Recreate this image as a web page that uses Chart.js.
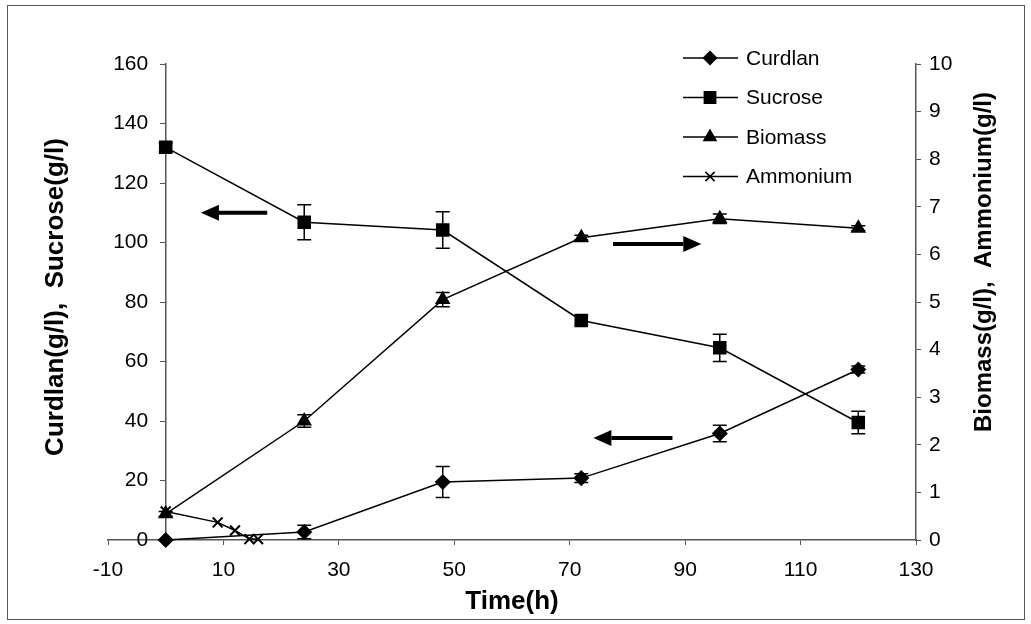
<!DOCTYPE html>
<html>
<head>
<meta charset="utf-8">
<script src="https://cdn.jsdelivr.net/npm/chart.js@4.4.1/dist/chart.umd.min.js"></script>
<style>
  html, body { margin: 0; padding: 0; background: #fff; }
  #wrap { position: relative; width: 1031px; height: 624px; }
  #frame { position: absolute; left: 7px; top: 5px; width: 1016px; height: 613px; border: 1px solid #555; }
  #chart { position: absolute; left: 0; top: 0; }
</style>
</head>
<body>
<div id="wrap">
  <div id="frame"></div>
  <canvas id="chart" width="1031" height="624"></canvas>
</div>
<script>
// sampling times (h)
const time = [0, 24, 48, 72, 96, 120]

// left axis series (g/l) with their error bars
const curdlan = [0, 2.7, 19.5, 20.8, 35.8, 57.3]
const curdlanErr = [0, 2.3, 5.2, 1.5, 2.8, 1.2]
const sucrose = [132, 106.8, 104.2, 73.8, 64.6, 39.5]
const sucroseErr = [1.5, 5.9, 6.1, 1.6, 4.6, 3.8]

// right axis series (g/l)
const biomass = [0.55, 2.5, 5.05, 6.35, 6.75, 6.55]
const biomassErr = [0.05, 0.13, 0.15, 0.05, 0.1, 0.05]
const ammoniumTime = [0, 9, 12, 14.5, 16]
const ammonium = [0.6, 0.37, 0.2, 0.02, 0.02]

// axis ticks
const xTicks = [-10, 10, 30, 50, 70, 90, 110, 130]

// arrows pointing to the axis each curve belongs to (tail x, head x, level, axis)
const arrowTail = [17.6, 77.5, 87.8]
const arrowHead = [6.1, 92.8, 74.1]
const arrowLevel = [110, 6.22, 34.3]
const arrowAxis = ['y', 'y1', 'y']

const FONT = 'Liberation Sans, Arial, sans-serif'
Chart.defaults.font.family = FONT
Chart.defaults.color = '#000'

function points(xs, ys) {
    return xs.map((x, i) => ({ x: x, y: ys[i] }))
}

const common = {
    borderColor: '#000',
    backgroundColor: '#000',
    borderWidth: 1.5,
    pointBorderWidth: 1.5,
    tension: 0,
    fill: false,
    clip: false
}

const datasets = [
    { ...common, label: 'Curdlan', data: points(time, curdlan), err: curdlanErr, yAxisID: 'y', pointStyle: 'rectRot', pointRadius: 7 },
    { ...common, label: 'Sucrose', data: points(time, sucrose), err: sucroseErr, yAxisID: 'y', pointStyle: 'rect', pointRadius: 8.5 },
    { ...common, label: 'Biomass', data: points(time, biomass), err: biomassErr, yAxisID: 'y1', pointStyle: 'triangle', pointRadius: 7.5 },
    { ...common, label: 'Ammonium', data: points(ammoniumTime, ammonium), yAxisID: 'y1', pointStyle: 'crossRot', pointRadius: 7, pointBorderWidth: 2 }
]

// vertical error bars with caps
const errorBars = {
    id: 'errorBars',
    afterDatasetsDraw(chart) {
        const ctx = chart.ctx
        ctx.save()
        ctx.strokeStyle = '#000'
        ctx.lineWidth = 1.5
        chart.data.datasets.forEach(ds => {
            if (!ds.err) return
            const xs = chart.scales.x
            const ys = chart.scales[ds.yAxisID]
            ds.data.forEach((p, j) => {
                const e = ds.err[j]
                if (!e) return
                const px = xs.getPixelForValue(p.x)
                const top = ys.getPixelForValue(p.y + e)
                const bot = ys.getPixelForValue(p.y - e)
                ctx.beginPath()
                ctx.moveTo(px, top); ctx.lineTo(px, bot)
                ctx.moveTo(px - 7, top); ctx.lineTo(px + 7, top)
                ctx.moveTo(px - 7, bot); ctx.lineTo(px + 7, bot)
                ctx.stroke()
            })
        })
        ctx.restore()
    }
}

// the three block arrows
const arrows = {
    id: 'arrows',
    afterDatasetsDraw(chart) {
        const ctx = chart.ctx
        const xs = chart.scales.x
        ctx.save()
        ctx.fillStyle = '#000'
        ctx.strokeStyle = '#000'
        ctx.lineWidth = 4
        arrowTail.forEach((t, i) => {
            const x1 = xs.getPixelForValue(t)
            const x2 = xs.getPixelForValue(arrowHead[i])
            const y = chart.scales[arrowAxis[i]].getPixelForValue(arrowLevel[i])
            const dir = x2 > x1 ? 1 : -1
            const headLen = 18
            ctx.beginPath()
            ctx.moveTo(x1, y)
            ctx.lineTo(x2 - dir * headLen, y)
            ctx.stroke()
            ctx.beginPath()
            ctx.moveTo(x2, y)
            ctx.lineTo(x2 - dir * headLen, y - 8)
            ctx.lineTo(x2 - dir * headLen, y + 8)
            ctx.closePath()
            ctx.fill()
        })
        ctx.restore()
    }
}

// legend (line + marker) in the upper right corner, and the two vertical axis titles
const extras = {
    id: 'extras',
    afterDraw(chart) {
        const ctx = chart.ctx
        ctx.save()
        ctx.fillStyle = '#000'
        ctx.strokeStyle = '#000'
        chart.data.datasets.forEach((ds, i) => {
            const y = 58 + i * 39.5
            ctx.lineWidth = 1.5
            ctx.beginPath()
            ctx.moveTo(683, y)
            ctx.lineTo(738, y)
            ctx.stroke()
            Chart.helpers.drawPoint(ctx, { pointStyle: ds.pointStyle, radius: ds.pointRadius - 0.5, borderWidth: ds.pointBorderWidth, rotation: 0 }, 710, y)
            ctx.font = '21px ' + FONT
            ctx.textAlign = 'left'
            ctx.textBaseline = 'middle'
            ctx.fillText(ds.label, 746, y + 1)
        })

        ctx.font = 'bold 26px ' + FONT
        ctx.textAlign = 'center'
        ctx.textBaseline = 'middle'
        ctx.translate(56, 297)
        ctx.rotate(-Math.PI / 2)
        ctx.fillText('Curdlan(g/l),  Sucrose(g/l)', 0, 0)
        ctx.restore()

        ctx.save()
        ctx.fillStyle = '#000'
        ctx.font = 'bold 24px ' + FONT
        ctx.textAlign = 'center'
        ctx.textBaseline = 'middle'
        ctx.translate(984, 262)
        ctx.rotate(-Math.PI / 2)
        ctx.fillText('Biomass(g/l),  Ammonium(g/l)', 0, 0)
        ctx.restore()
    }
}

const axisColor = '#555'

new Chart(document.getElementById('chart'), {
    type: 'line',
    data: { datasets: datasets },
    options: {
        responsive: false,
        animation: false,
        layout: { padding: { left: 108, top: 64, right: 0, bottom: 0 } },
        plugins: {
            legend: { display: false },
            tooltip: { enabled: false }
        },
        scales: {
            x: {
                type: 'linear',
                position: 'bottom',
                min: -10,
                max: 130,
                afterBuildTicks: scale => { scale.ticks = xTicks.map(v => ({ value: v })) },
                afterFit: scale => { scale.height = 84 },
                ticks: { font: { size: 21 }, padding: 13, maxRotation: 0 },
                grid: { drawOnChartArea: false, tickLength: 5, color: axisColor },
                border: { color: axisColor, width: 1.5 },
                title: { display: true, text: 'Time(h)', font: { size: 26, weight: 'bold' }, padding: { top: 0, bottom: 7 } }
            },
            y: {
                type: 'linear',
                position: { x: 0 },
                min: 0,
                max: 160,
                // axis sits at x = 0: the trailing spaces keep the labels clear of the tick marks
                ticks: { stepSize: 20, font: { size: 21 }, callback: v => v + '   ' },
                grid: { drawOnChartArea: false, tickLength: 5, color: axisColor },
                border: { color: axisColor, width: 1.5 }
            },
            y1: {
                type: 'linear',
                position: 'right',
                min: 0,
                max: 10,
                afterFit: scale => { scale.width = 115 },
                ticks: { stepSize: 1, font: { size: 21 }, padding: 8 },
                grid: { drawOnChartArea: false, tickLength: 5, color: axisColor },
                border: { color: axisColor, width: 1.5 }
            }
        }
    },
    plugins: [errorBars, arrows, extras]
})
</script>
</body>
</html>
